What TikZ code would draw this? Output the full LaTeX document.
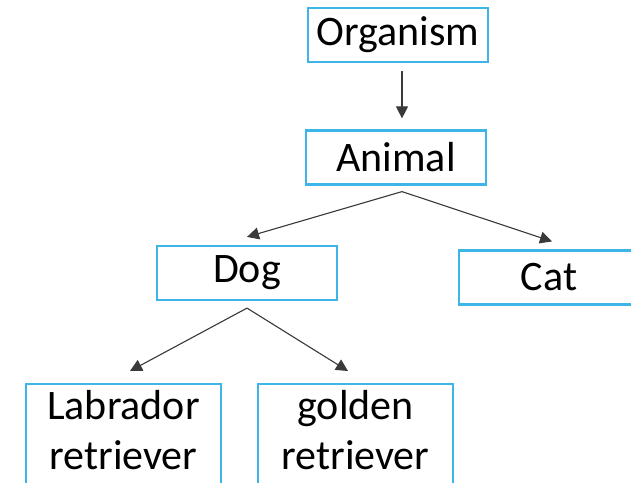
\documentclass[tikz,border=0pt]{standalone}
\usepackage{fontspec}
\setmainfont{Carlito}
\usetikzlibrary{arrows.meta, positioning, calc}
\definecolor{cblue}{HTML}{3DB5E8}
\definecolor{cdark}{HTML}{3A3A3A}
\tikzset{
  every picture/.style={x=1pt, y=1pt},
  box/.style={draw=cblue, line width=2.2pt, minimum width=#1, minimum height=54pt, inner sep=5pt, align=center, font=\fontsize{42}{50}\selectfont},
  box/.default=180pt,
  arrow/.style={-{Triangle[length=12pt, width=12pt]}, draw=cdark, fill=cdark, line width=1.1pt},
}

\begin{document}
\begin{tikzpicture}
  \useasboundingbox (0,0) rectangle (631,-482);
  \clip (0,0) rectangle (631,-482);
  \node[box] (organism) at (398,-35) {Organism};
  \node[box] (animal) at (396,-157.5) {Animal};
  \node[box] (dog) at (247,-273) {Dog};
  \node[box] (cat) at (549,-277.5) {Cat};
  \node[box=195pt, anchor=north, text height=80pt, text depth=35pt] (labrador) at (123.5,-383) {Labrador\\retriever};
  \node[box=195pt, anchor=north, text height=80pt, text depth=35pt] (golden) at (355.5,-383) {golden\\retriever};
  \coordinate (animal fork) at ([xshift=6pt, yshift=-6pt]animal.south);
  \coordinate (dog fork) at ([yshift=-7pt]dog.south);
  \draw[arrow] ([xshift=4pt, yshift=-8pt]organism.south) -- ([xshift=6pt, yshift=11pt]animal.north);
  \draw[arrow] (animal fork) -- ([yshift=8pt]dog.north);
  \draw[arrow] (animal fork) -- ([xshift=3pt, yshift=8pt]cat.north);
  \draw[arrow] (dog fork) -- ([xshift=6.5pt, yshift=12pt]labrador.north);
  \draw[arrow] (dog fork) -- ([xshift=-7.5pt, yshift=12pt]golden.north);
\end{tikzpicture}
\end{document}
